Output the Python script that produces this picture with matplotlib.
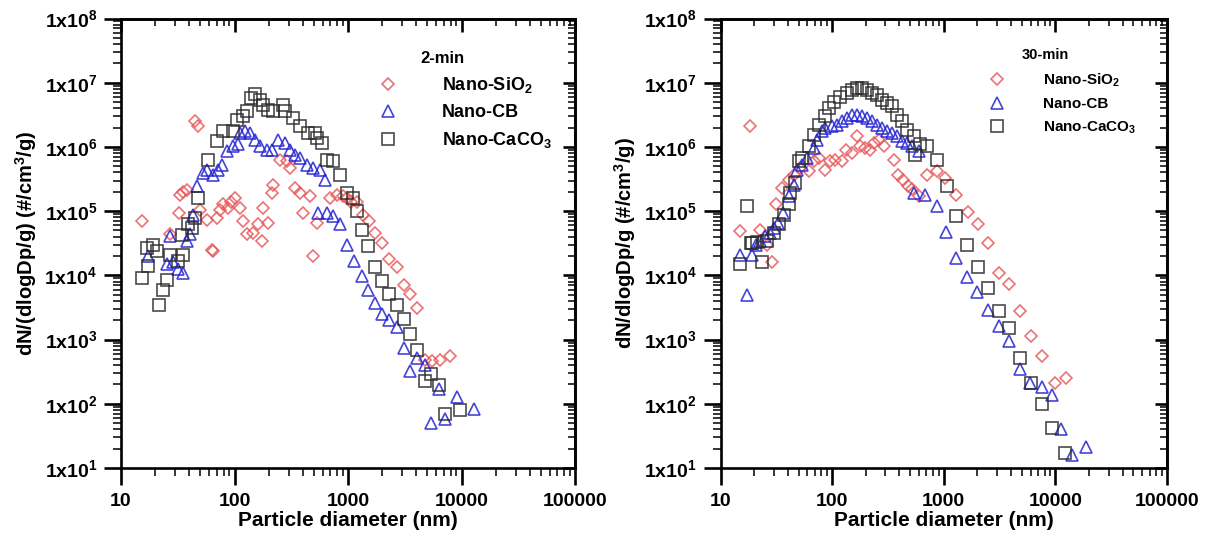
import numpy as np
import matplotlib
matplotlib.use("Agg")
import matplotlib.pyplot as plt
from matplotlib.ticker import FixedLocator, FixedFormatter, LogLocator, NullFormatter

plt.rcParams['font.family'] = ['Liberation Sans', 'DejaVu Sans']
plt.rcParams['font.weight'] = 'bold'
plt.rcParams['mathtext.fontset'] = 'custom'
plt.rcParams['mathtext.rm'] = 'Liberation Sans:bold'
plt.rcParams['mathtext.bf'] = 'Liberation Sans:bold'
plt.rcParams['mathtext.it'] = 'Liberation Sans:bold'
plt.rcParams['mathtext.default'] = 'bf'

# ---------------- data: left panel (2-min) ----------------
l_sio2_x = [15.2, 27, 32.5, 33.2, 35.4, 37.8, 44.8, 47.8, 49.6, 56.7, 63, 64.9, 69.7, 74.4,
            79.6, 87.6, 94, 101, 111.6, 119.6, 128, 146, 161, 174, 179, 198, 212, 220,
            252, 287, 307, 339, 376, 402, 461, 494, 529, 692, 793, 906, 970, 1070, 1190,
            1360, 1540, 1730, 1980, 2300, 2690, 3100, 3520, 4050, 4740, 5540, 6450, 7960]
l_sio2_y = [7.0e4, 4.4e4, 9.4e4, 1.8e5, 2.0e5, 2.1e5, 2.5e6, 2.1e6, 1.05e5, 7.4e4, 2.5e4,
            2.4e4, 7.8e4, 1.05e5, 1.27e5, 1.12e5, 1.37e5, 1.6e5, 1.12e5, 7.0e4, 4.4e4,
            4.6e4, 6.2e4, 3.4e4, 1.12e5, 6.6e4, 1.9e5, 2.6e5, 6.3e5, 6.0e5, 4.7e5, 2.3e5,
            1.9e5, 9.4e4, 1.7e5, 2.0e4, 6.6e4, 1.6e5, 1.8e5, 1.7e5, 1.6e5, 1.37e5, 1.4e5,
            8.8e4, 7.0e4, 4.6e4, 3.2e4, 1.8e4, 1.34e4, 7.1e3, 5.1e3, 3.1e3, 4.8e2, 4.6e2,
            4.8e2, 5.5e2]

l_cb_x = [17.4, 25.3, 27, 28.8, 32, 35.4, 37.8, 40.5, 43.3, 46.4, 53, 56.7, 64.9, 72, 76.9,
          85.4, 97.8, 107.8, 111.6, 123, 137, 151, 167, 192, 212, 243, 278, 307, 339, 376,
          431, 494, 565, 627, 546, 650, 740, 850, 970, 1130, 1320, 1500, 1730, 1980, 2300,
          2690, 3100, 3520, 4050, 4740, 5420, 6300, 7200, 9150, 12800]
l_cb_y = [2.0e4, 1.48e4, 4.1e4, 1.6e4, 1.24e4, 1.1e4, 3.4e4, 4.4e4, 8.8e4, 2.44e5, 3.9e5,
          4.4e5, 3.7e5, 4.4e5, 5.3e5, 8.6e5, 1.03e6, 1.1e6, 1.64e6, 1.75e6, 1.64e6, 1.3e6,
          1.03e6, 9.1e5, 9.1e5, 1.3e6, 1.16e6, 9.1e5, 7.6e5, 6.7e5, 5.3e5, 4.7e5, 4.4e5,
          3.1e5, 9.5e4, 9.5e4, 8.5e4, 6.2e4, 3.0e4, 1.66e4, 9.7e3, 6.0e3, 3.7e3, 2.5e3,
          2.0e3, 1.56e3, 7.5e2, 3.2e2, 5.2e2, 4.0e2, 5.1e1, 1.68e2, 5.7e1, 1.28e2, 8.2e1]

l_caco3_x = [15.2, 16.8, 17.4, 19.3, 20.6, 21.7, 23.6, 25.3, 27, 32, 34.2, 35.4, 39.2, 42,
             44.8, 47.8, 58.7, 69.7, 79.6, 97.8, 104.4, 119.6, 128, 141, 151, 167, 179, 198,
             220, 268, 278, 330, 376, 445, 510, 529, 585, 650, 740, 850, 970, 1110, 1190,
             1320, 1500, 1730, 1980, 2300, 2690, 3100, 3520, 4050, 4740, 5420, 6300, 7200,
             9600]
l_caco3_y = [9.1e3, 2.68e4, 1.39e4, 3.0e4, 2.4e4, 3.4e3, 6.0e3, 8.6e3, 2.1e4, 1.7e4, 4.3e4,
             2.1e4, 6.2e4, 5.5e4, 7.8e4, 1.6e5, 6.3e5, 1.22e6, 1.75e6, 1.75e6, 2.65e6, 3.0e6,
             3.6e6, 5.8e6, 6.6e6, 5.4e6, 4.5e6, 3.8e6, 3.6e6, 4.5e6, 3.6e6, 2.8e6, 2.1e6,
             1.64e6, 1.64e6, 1.38e6, 1.16e6, 6.3e5, 6.0e5, 3.7e5, 1.9e5, 1.6e5, 1.0e5, 5.0e4,
             2.85e4, 1.34e4, 8.1e3, 5.2e3, 3.5e3, 2.1e3, 1.2e3, 6.8e2, 2.3e2, 2.9e2, 1.96e2,
             6.9e1, 8.0e1]

# ---------------- data: right panel (30-min) ----------------
r_sio2_x = [15.1, 18.5, 22.8, 26.1, 29, 31.2, 35.6, 40.8, 45.3, 52, 61.6, 68.3, 75.7, 86.8,
            96, 107, 123, 132, 150, 166, 178, 198, 220, 235, 261, 289, 355, 393, 435, 481,
            520, 595, 705, 865, 1030, 1300, 1660, 2040, 2510, 3150, 3870, 4850, 6040, 7560,
            10000, 12400]
r_sio2_y = [4.9e4, 2.1e6, 5.0e4, 3.0e4, 1.6e4, 1.27e5, 2.3e5, 3.1e5, 3.7e5, 4.7e5, 4.2e5,
            6.0e5, 6.7e5, 4.4e5, 6.0e5, 6.3e5, 6.0e5, 9.1e5, 8.1e5, 1.46e6, 1.03e6, 9.6e5,
            9.1e5, 1.16e6, 1.3e6, 1.03e6, 6.3e5, 3.7e5, 3.1e5, 2.45e5, 2.2e5, 1.7e5, 3.7e5,
            4.2e5, 3.3e5, 1.8e5, 9.6e4, 6.2e4, 3.2e4, 1.07e4, 7.3e3, 2.8e3, 1.14e3, 5.5e2,
            2.1e2, 2.5e2]

r_cb_x = [15.1, 17.1, 19.2, 21, 22.8, 25.2, 28, 30.4, 32.6, 36.3, 40.8, 45.3, 48.5, 53.8,
          59.8, 68.3, 73.2, 81.2, 86.8, 99, 110, 123, 135, 150, 166, 185, 204, 227, 252, 279,
          310, 344, 381, 422, 470, 520, 595, 537, 684, 865, 1055, 1300, 1620, 2000, 2510,
          3150, 3870, 4850, 5930, 7560, 9300, 11300, 14200, 18900]
r_cb_y = [2.1e4, 5.0e3, 2.1e4, 3.0e4, 3.4e4, 4.1e4, 4.6e4, 5.5e4, 6.6e4, 9.4e4, 1.7e5,
          2.6e5, 4.4e5, 5.3e5, 6.7e5, 9.6e5, 1.3e6, 1.75e6, 1.97e6, 2.1e6, 2.2e6, 2.5e6,
          2.8e6, 3.2e6, 3.2e6, 3.0e6, 2.8e6, 2.5e6, 2.2e6, 1.97e6, 1.75e6, 1.64e6, 1.46e6,
          1.23e6, 1.16e6, 1.03e6, 8.6e5, 1.9e5, 1.8e5, 1.19e5, 4.8e4, 1.85e4, 9.5e3, 5.5e3,
          2.85e3, 1.6e3, 9.5e2, 3.5e2, 2.1e2, 1.8e2, 1.35e2, 4.0e1, 1.6e1, 2.1e1]

r_caco3_x = [15.1, 17.3, 18.6, 19.2, 21.3, 23.6, 26.1, 30, 33.2, 36.8, 40.8, 42.3, 46.8, 50,
             53.8, 61.6, 68.3, 75.7, 86.8, 93, 103, 118, 135, 150, 166, 185, 204, 227, 252,
             279, 310, 344, 381, 422, 470, 537, 553, 612, 705, 865, 1060, 1300, 1600, 2040,
             2510, 3150, 3870, 4850, 6040, 7560, 9300, 12300]
r_caco3_y = [1.48e4, 1.19e5, 3.2e4, 3.2e4, 3.3e4, 1.6e4, 3.4e4, 4.6e4, 6.2e4, 8.8e4, 1.27e5,
             1.9e5, 2.7e5, 6.0e5, 6.7e5, 1.03e6, 1.56e6, 2.2e6, 3.0e6, 4.0e6, 5.1e6, 6.1e6,
             6.9e6, 7.8e6, 8.3e6, 8.3e6, 7.8e6, 6.9e6, 6.5e6, 5.4e6, 4.8e6, 4.3e6, 3.2e6,
             2.5e6, 1.85e6, 1.46e6, 7.6e5, 1.1e6, 1.03e6, 6.3e5, 2.45e5, 8.5e4, 3.0e4, 1.34e4,
             6.3e3, 2.8e3, 1.5e3, 5.2e2, 2.1e2, 1.0e2, 4.2e1, 1.7e1]

series_labels = ['Nano-SiO$_2$', 'Nano-CB', 'Nano-CaCO$_3$']
legend_titles = ['2-min', '30-min']
y_labels = ['dN/(dlogDp/g) (#/cm$^3$/g)', 'dN/dlogDp/g (#/cm$^3$/g)']
x_label = 'Particle diameter (nm)'
x_ticks = [10, 100, 1000, 10000, 100000]
x_tick_labels = ['10', '100', '1000', '10000', '100000']
y_ticks = [1e1, 1e2, 1e3, 1e4, 1e5, 1e6, 1e7, 1e8]
y_tick_labels = ['1x10$^{%d}$' % k for k in range(1, 9)]

# ---------------- figure ----------------
fig = plt.figure(figsize=(12.14, 5.43), dpi=100)
axL = fig.add_axes([0.0997, 0.1381, 0.3740, 0.8278])
axR = fig.add_axes([0.5935, 0.1381, 0.3678, 0.8278])

red = '#e85a5a'
blue = '#2323d2'
black = '#2a2a2a'

def style(ax):
    ax.set_xscale('log')
    ax.set_yscale('log')
    ax.set_xlim(10, 100000)
    ax.set_ylim(1e1, 1e8)
    for s in ax.spines.values():
        s.set_linewidth(1.9)
    ax.xaxis.set_major_locator(FixedLocator(x_ticks))
    ax.xaxis.set_major_formatter(FixedFormatter(x_tick_labels))
    ax.yaxis.set_major_locator(FixedLocator(y_ticks))
    ax.yaxis.set_major_formatter(FixedFormatter(y_tick_labels))
    for a in (ax.xaxis, ax.yaxis):
        a.set_minor_locator(LogLocator(base=10, subs=np.arange(2, 10), numticks=100))
        a.set_minor_formatter(NullFormatter())
    ax.tick_params(which='major', direction='out', length=12, width=1.9)
    ax.tick_params(which='minor', direction='out', length=6, width=1.1)
    ax.tick_params(axis='x', which='major', labelsize=14, pad=6)
    ax.tick_params(axis='y', which='major', labelsize=14, pad=5)
    ax.set_xlabel(x_label, fontsize=15, fontweight='bold', labelpad=1)
    sx = ax.secondary_xaxis('top')
    sy = ax.secondary_yaxis('right')
    sx.xaxis.set_major_locator(FixedLocator(x_ticks))
    sy.yaxis.set_major_locator(FixedLocator(y_ticks))
    sx.xaxis.set_minor_locator(LogLocator(base=10, subs=np.arange(2, 10), numticks=100))
    sy.yaxis.set_minor_locator(LogLocator(base=10, subs=np.arange(2, 10), numticks=100))
    for sa in (sx, sy):
        sa.tick_params(which='major', direction='in', length=9, width=1.9,
                       labeltop=False, labelright=False)
        sa.tick_params(which='minor', direction='in', length=5, width=1.1)
        for s in sa.spines.values():
            s.set_linewidth(1.9)
    sx.xaxis.set_major_formatter(NullFormatter())
    sx.xaxis.set_minor_formatter(NullFormatter())
    sy.yaxis.set_major_formatter(NullFormatter())
    sy.yaxis.set_minor_formatter(NullFormatter())

def draw(ax, sets, title, title_xy, leg_fs, title_fs, anchor, spacing, ylab):
    handles = []
    for (x, y), mk, col, ms, lab in zip(sets, ['D', '^', 's'], [red, blue, black],
                                          [6.2, 8, 8.5], series_labels):
        h, = ax.plot(x, y, linestyle='none', marker=mk, markersize=ms,
                     markerfacecolor='none', markeredgecolor=col, markeredgewidth=1.2,
                     alpha=0.85, label=lab)
        handles.append(h)
    style(ax)
    ax.set_ylabel(ylab, fontsize=14.5, fontweight='bold', labelpad=4)
    leg = ax.legend(handles=handles, loc='upper left', bbox_to_anchor=anchor,
                    frameon=False, fontsize=leg_fs,
                    handlelength=1.0, handletextpad=2.5, borderpad=0, borderaxespad=0,
                    labelspacing=spacing)
    for t in leg.get_texts():
        t.set_fontweight('bold')
    ax.text(title_xy[0], title_xy[1], title, transform=ax.transAxes, ha='left',
            va='center', fontsize=title_fs, fontweight='bold')

draw(axL, [(l_sio2_x, l_sio2_y), (l_cb_x, l_cb_y), (l_caco3_x, l_caco3_y)],
     legend_titles[0], (0.659, 0.912), 13, 12, (0.568, 0.874), 0.5, y_labels[0])
draw(axR, [(r_sio2_x, r_sio2_y), (r_cb_x, r_cb_y), (r_caco3_x, r_caco3_y)],
     legend_titles[1], (0.675, 0.919), 11, 10.5, (0.602, 0.882), 0.55, y_labels[1])

fig.savefig('out.png', dpi=100)
